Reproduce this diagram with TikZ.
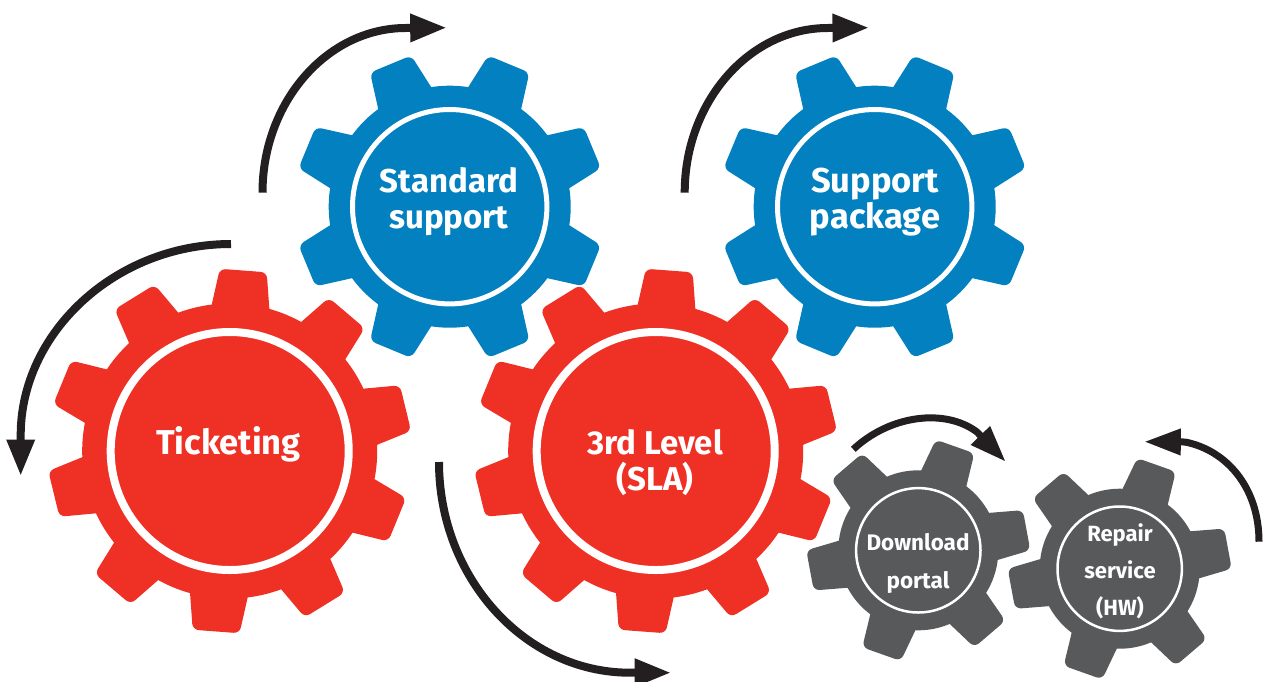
\documentclass[tikz,border=0pt]{standalone}
\usepackage{fontspec}
\setmainfont{Fira Sans}
\usetikzlibrary{arrows.meta,calc}
\definecolor{gearred}{HTML}{EF3024}
\definecolor{gearblue}{HTML}{0380BF}
\definecolor{geargrey}{HTML}{58595B}
\definecolor{arrowblack}{HTML}{231F20}
\tikzset{
  bigturn/.style={draw=arrowblack,line width=8pt,-{Triangle[length=36.5pt,width=26.5pt]}},
  smallturn/.style={draw=arrowblack,line width=7pt,-{Triangle[length=36.5pt,width=25pt]}},
  redring/.style={draw=white,line width=8pt},
  bluering/.style={draw=white,line width=5pt},
  greyring/.style={draw=white,line width=2.5pt},
  biglabel/.style={text=white,align=center,font=\bfseries\fontsize{33}{36}\selectfont},
  widelabel/.style={text=white,align=center,font=\bfseries\fontsize{34.5}{36}\selectfont},
  smalllabel/.style={text=white,align=center,font=\bfseries\fontsize{22.5}{38}\selectfont},
  repairlabel/.style={text=white,align=center,font=\bfseries\fontsize{22}{37}\selectfont},
}
% colour, cx, cy, teeth, phase, root radius, tip radius, root half angle, tip half angle
\newcommand\gearbody[9]{%
  \begin{scope}[shift={(#2,#3)}]
    \fill[#1] (0,0) circle (#6);
    \foreach \gk in {1,...,#4}{%
      \pgfmathsetmacro\ga{#5+360*\gk/#4}%
      \fill[#1,rounded corners=6pt]
        ($(\ga-#9:#7)!1.3!(\ga-#8:#6)$) -- (\ga-#9:#7) -- (\ga+#9:#7) --
        ($(\ga+#9:#7)!1.3!(\ga+#8:#6)$) -- cycle;
    }
  \end{scope}%
}
\begin{document}
\begin{tikzpicture}[x=1pt,y=1pt]
\useasboundingbox (0,0) rectangle (1263,-681);

% gears
\gearbody{gearblue}{449.7}{-206.7}{8}{22.5}{121}{156}{13.7}{8.2}
\gearbody{gearblue}{874.7}{-206.7}{8}{22.5}{121}{156}{13.7}{8.2}
\gearbody{gearred}{229.7}{-451}{10}{13.7}{147.5}{182.5}{11.3}{7.4}
\gearbody{gearred}{655.7}{-451}{10}{13.7}{147.5}{182.5}{11.3}{7.4}
\gearbody{geargrey}{918.3}{-550.3}{6}{10.5}{80}{112}{17.4}{10.5}
\gearbody{geargrey}{1119.7}{-568.7}{6}{10.5}{80}{112}{17.4}{10.5}

% rings
\draw[bluering] (449.7,-206.7) circle (97.2);
\draw[bluering] (874.7,-206.7) circle (97.2);
\draw[redring] (229.7,-451) circle (119);
\draw[redring] (655.7,-451) circle (119);
\draw[greyring] (918.3,-550.3) circle (62.2);
\draw[greyring] (1119.7,-568.7) circle (62.2);

% labels
\node[biglabel] (standard) at (449,-201.5) {Standard\\support};
\node[widelabel] (package) at (875,-202) {Support\\package};
\node[widelabel] (ticketing) at (228.5,-444.5) {Ticketing};
\node[biglabel] (level) at (655,-462.5) {3rd Level\\(SLA)};
\node[smalllabel] (download) at (918,-563) {Download\\portal};
\node[repairlabel] (repair) at (1120,-571) {Repair\\service\\(HW)};

% free ends of the turn arrows
\coordinate (a1s) at (262.5,-192.7); \coordinate (a1e) at (446.7,-27.7);
\coordinate (a2s) at (684.7,-192.7); \coordinate (a2e) at (869,-27.7);
\coordinate (a3s) at (231,-244);     \coordinate (a3e) at (20.7,-476);
\coordinate (a4s) at (439,-462);     \coordinate (a4e) at (671,-672.7);
\coordinate (a5s) at (853.3,-449.3); \coordinate (a5e) at (1005.7,-461.7);
\coordinate (a6s) at (1259,-541.7);  \coordinate (a6e) at (1144.3,-441.7);

\draw[bigturn] (a1s) .. controls (262.5,-102) and (327,-28.5) .. (405,-28) -- (a1e);
\draw[bigturn] (a2s) .. controls (684.7,-102) and (749,-28.5) .. (827,-28) -- (a2e);
\draw[bigturn] (a3s) .. controls (115,-244) and (20.7,-333) .. (20.7,-435) -- (a3e);
\draw[bigturn] (a4s) .. controls (439,-578) and (525,-672.7) .. (630,-672.7) -- (a4e);
\draw[smallturn] (a5s) .. controls (890,-415) and (945,-408) .. (977,-432) -- (a5e);
\draw[smallturn] (a6s) .. controls (1259,-487) and (1226,-450) .. (1185,-442) -- (a6e);
\end{tikzpicture}
\end{document}
